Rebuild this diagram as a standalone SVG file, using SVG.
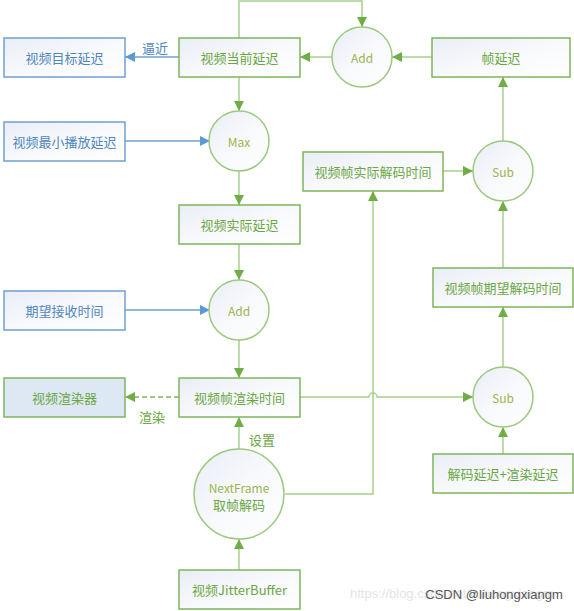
<svg xmlns="http://www.w3.org/2000/svg" width="574" height="611" viewBox="0 0 574 611">
<defs>
<linearGradient id="gf" x1="0" y1="0" x2="1" y2="1">
<stop offset="0" stop-color="#e9edf6"/><stop offset="0.5" stop-color="#f8f9fc"/><stop offset="1" stop-color="#ffffff"/>
</linearGradient>
<marker id="ag" viewBox="0 0 10 10" refX="10" refY="5" markerWidth="10" markerHeight="10" markerUnits="userSpaceOnUse" orient="auto"><path d="M0,0 L10,5 L0,10 z" fill="#70ad47"/></marker>
<marker id="ab" viewBox="0 0 10 10" refX="10" refY="5" markerWidth="10" markerHeight="10" markerUnits="userSpaceOnUse" orient="auto"><path d="M0,0 L10,5 L0,10 z" fill="#5b9bd5"/></marker>
</defs>
<style>
.g rect{fill:url(#gf);stroke:#7eb55a;stroke-width:1.5}
.b rect{fill:url(#gf);stroke:#6f9fd3;stroke-width:1.5}
.g circle{fill:url(#gf);stroke:#9cc97f;stroke-width:1.5}
text{font-family:"Noto Sans CJK SC","Noto Sans",sans-serif;font-size:13px;text-anchor:middle;dominant-baseline:central}
.g text{fill:#6aa744}
.b text{fill:#4f86c0}
.c text{fill:#9ab550;font-size:12px}
.cl{fill:none;stroke:#a8d08d;stroke-width:1.5;marker-end:url(#ag)}
.bl{fill:none;stroke:#6f9fd3;stroke-width:1.5;marker-end:url(#ab)}
.lbl{fill:#6aa744;font-size:13px}
.lblb{fill:#4f86c0;font-size:13px}
</style>
<g id="connectors">
<path class="cl" d="M239,38 V1 H362 V27"/>
<path class="cl" d="M332,57 H300"/>
<path class="cl" d="M432,57 H392"/>
<path class="bl" d="M179,57 H125"/>
<path class="cl" d="M239,77 V111"/>
<path class="bl" d="M125,141 H210"/>
<path class="cl" d="M239,171 V205"/>
<path class="cl" d="M239,244 V280"/>
<path class="bl" d="M125,310 H210"/>
<path class="cl" d="M239,340 V378"/>
<path class="cl" d="M179,397 H125" stroke-dasharray="5,3" style="stroke:#7eb55a"/>
<path class="cl" d="M300,397 H369 A4,4 0 0 1 377,397 H473"/>
<path class="cl" d="M239,449 V417"/>
<path class="cl" d="M285,494 H373 V191"/>
<path class="cl" d="M443,171 H473"/>
<path class="cl" d="M503,141 V77"/>
<path class="cl" d="M503,268 V201"/>
<path class="cl" d="M503,367 V307"/>
<path class="cl" d="M503,454 V427"/>
<path class="cl" d="M239,570 V539"/>
<text class="lblb" x="155" y="47">逼近</text>
<text class="lbl" x="152" y="416">渲染</text>
<text class="lbl" x="262" y="439">设置</text>
</g>
<g id="n-target" class="b"><rect x="4" y="38" width="121" height="39"/><text x="64.5" y="57.5">视频目标延迟</text></g>
<g id="n-cur" class="g"><rect x="179" y="38" width="121" height="39"/><text x="239.5" y="57.5">视频当前延迟</text></g>
<g id="n-add1" class="g c"><circle cx="362" cy="57" r="30"/><text x="362" y="57">Add</text></g>
<g id="n-framedelay" class="g"><rect x="432" y="38" width="138" height="39"/><text x="501" y="57.5">帧延迟</text></g>
<g id="n-min" class="b"><rect x="4" y="122" width="121" height="39"/><text x="64.5" y="141.5">视频最小播放延迟</text></g>
<g id="n-max" class="g c"><circle cx="239" cy="141" r="30"/><text x="239" y="141">Max</text></g>
<g id="n-actdec" class="g"><rect x="303" y="152" width="140" height="39"/><text x="373" y="171.5">视频帧实际解码时间</text></g>
<g id="n-sub1" class="g c"><circle cx="503" cy="171" r="30"/><text x="503" y="171">Sub</text></g>
<g id="n-actdelay" class="g"><rect x="179" y="205" width="121" height="39"/><text x="239.5" y="224.5">视频实际延迟</text></g>
<g id="n-expdec" class="g"><rect x="433" y="268" width="140" height="39"/><text x="503" y="287.5">视频帧期望解码时间</text></g>
<g id="n-recv" class="b"><rect x="4" y="291" width="121" height="39"/><text x="64.5" y="310.5">期望接收时间</text></g>
<g id="n-add2" class="g c"><circle cx="239" cy="310" r="30"/><text x="239" y="310">Add</text></g>
<g id="n-renderer" class="g"><rect x="4" y="378" width="121" height="39" style="fill:#dde8f4"/><text x="64.5" y="397.5">视频渲染器</text></g>
<g id="n-rendertime" class="g"><rect x="179" y="378" width="121" height="39"/><text x="239.5" y="397.5">视频帧渲染时间</text></g>
<g id="n-sub2" class="g c"><circle cx="503" cy="397" r="30"/><text x="503" y="397">Sub</text></g>
<g id="n-decrender" class="g"><rect x="433" y="454" width="140" height="39"/><text x="503" y="473.5">解码延迟+渲染延迟</text></g>
<g id="n-next" class="g"><circle cx="239" cy="494" r="45"/><text x="239" y="487" style="fill:#9ab550;font-size:12px">NextFrame</text><text x="239" y="504">取帧解码</text></g>
<g id="n-jitter" class="g"><rect x="179" y="570" width="121" height="39"/><text x="239.5" y="589.5">视频JitterBuffer</text></g>
<text x="350" y="593" style="fill:#e4e4e4;font-size:13px;text-anchor:start;font-family:'Liberation Sans',sans-serif">https://blog.csdn.net/liuhongxiangm</text>
<text x="494" y="594" style="fill:#555;font-size:13px;font-family:'Liberation Sans',sans-serif">CSDN @liuhongxiangm</text>
</svg>
